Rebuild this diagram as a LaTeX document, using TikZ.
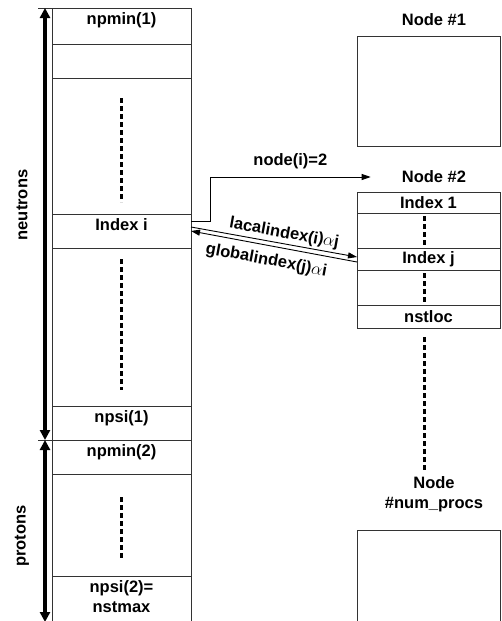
\documentclass[tikz,border=0pt]{standalone}
\usepackage{fontspec}
\setmainfont{Liberation Sans}
\usetikzlibrary{positioning,arrows.meta}

\begin{document}
\begin{tikzpicture}[x=1pt,y=-1pt,
		every node/.style={font=\fontsize{16.5}{20}\selectfont\bfseries, inner sep=1pt},
		cell/.style={draw=black!80, line width=0.9pt, minimum width=139pt, inner sep=0pt, outer sep=0pt},
		rcell/.style={draw=black!80, line width=0.9pt, minimum width=143pt, inner sep=0pt, outer sep=0pt},
		vdots/.style={line width=2.6pt, dash pattern=on 5pt off 3pt},
		span/.style={line width=3.2pt, {Triangle[width=10pt,length=10pt]}-{Triangle[width=10pt,length=10pt]}},
		link/.style={line width=0.9pt, -{Triangle[width=6pt,length=9pt]}},
		linkback/.style={line width=0.9pt, {Triangle[width=6pt,length=9pt]}-}]
		\useasboundingbox (0,0) rectangle (501,621);
		
		% LEFT SIDE: state array of all levels
		\node[cell, anchor=north west, minimum height=36pt] (c1) at (52,8) {};
		\node[cell, minimum height=34pt, below=0pt of c1] (c2) {};
		\node[cell, minimum height=136pt, below=0pt of c2] (c3) {};
		\node[cell, minimum height=34pt, below=0pt of c3] (idxi) {};
		\node[cell, minimum height=158pt, below=0pt of idxi] (c5) {};
		\node[cell, minimum height=34pt, below=0pt of c5] (c6) {};
		\node[cell, minimum height=34pt, below=0pt of c6] (c7) {};
		\node[cell, minimum height=102pt, below=0pt of c7] (c8) {};
		\node[cell, minimum height=48pt, below=0pt of c8] (c9) {};
		
		\node[below=3pt of c1.north] (npmin1) {npmin(1)};
		\node[below=3.5pt of idxi.north] (idxitxt) {Index i};
		\node[below=3.5pt of c6.north] (npsi1) {npsi(1)};
		\node[below=3pt of c7.north] (npmin2) {npmin(2)};
		\node[below=3pt of c9.north, align=center] (npsi2) {npsi(2)=\\nstmax};
		
		% dots
		\draw[vdots] ([yshift=-20pt]c3.north) -- ([yshift=12pt]c3.south);
		\draw[vdots] ([yshift=-11pt]c5.north) -- ([yshift=16pt]c5.south);
		\draw[vdots] ([yshift=-23pt]c8.north) -- ([yshift=16pt]c8.south);
		
		% neutrons / protons ranges
		\draw[line width=0.9pt, black!80] ([xshift=-14pt]c1.north west) -- (c1.north west);
		\draw[line width=0.9pt, black!80] ([xshift=-14pt]c7.north west) -- (c7.north west);
		\draw[span] ([xshift=-7pt]c1.north west) -- ([xshift=-7pt]c7.north west);
		\draw[span] ([xshift=-7pt]c7.north west) -- ([xshift=-7pt,yshift=2pt]c9.south west);
		\node[rotate=90] (neutrons) at (22,205) {neutrons};
		\node[rotate=90] (protons) at (22,536) {protons};
		
		% RIGHT SIDE: nodes
		\node (n1lbl) at (434,20) {Node \#1};
		\node[rcell, anchor=north west, minimum height=110pt] (n1box) at (357,36) {};
		
		\node (n2lbl) at (434,177) {Node \#2};
		\node[rcell, anchor=north west, minimum height=21pt] (idx1) at (357,192) {Index 1};
		\node[rcell, minimum height=35pt, below=0pt of idx1] (gap1) {};
		\node[rcell, minimum height=22pt, below=0pt of gap1] (idxj) {Index j};
		\node[rcell, minimum height=35pt, below=0pt of idxj] (gap2) {};
		\node[rcell, minimum height=23pt, below=0pt of gap2] (nstloc) {nstloc};
		\draw[vdots] ([xshift=-4pt,yshift=-3pt]gap1.north) -- ([xshift=-4pt,yshift=2pt]gap1.south);
		\draw[vdots] ([xshift=-4pt,yshift=-3pt]gap2.north) -- ([xshift=-4pt,yshift=2pt]gap2.south);
		
		\node[align=center] (nplbl) at (434,494) {Node\\\#num\_procs};
		\node[rcell, anchor=north west, minimum height=100pt] (npbox) at (357,530) {};
		\draw[vdots] ([xshift=-4pt,yshift=-9pt]nstloc.south) -- ([xshift=-4pt,yshift=5pt]nstloc.south |- nplbl.north);
		
		% links between the arrays
		\draw[link] ([yshift=10pt]idxi.east) -- ++(19,0) |- ([xshift=-30pt]n2lbl.west)
			node[pos=0.75, above=7pt] (nodei) {node(i)=2};
		\draw[link] ([yshift=4pt]idxi.east) -- ([yshift=2pt]idxj.west)
			node[pos=0.55, sloped, above=1pt] (loc) {lacalindex(i)$\alpha$j};
		\draw[linkback] (idxi.east) -- ([yshift=-3pt]idxj.west)
			node[pos=0.47, sloped, below=6pt] (glob) {globalindex(j)$\alpha$i};
		
	\end{tikzpicture}
\end{document}
